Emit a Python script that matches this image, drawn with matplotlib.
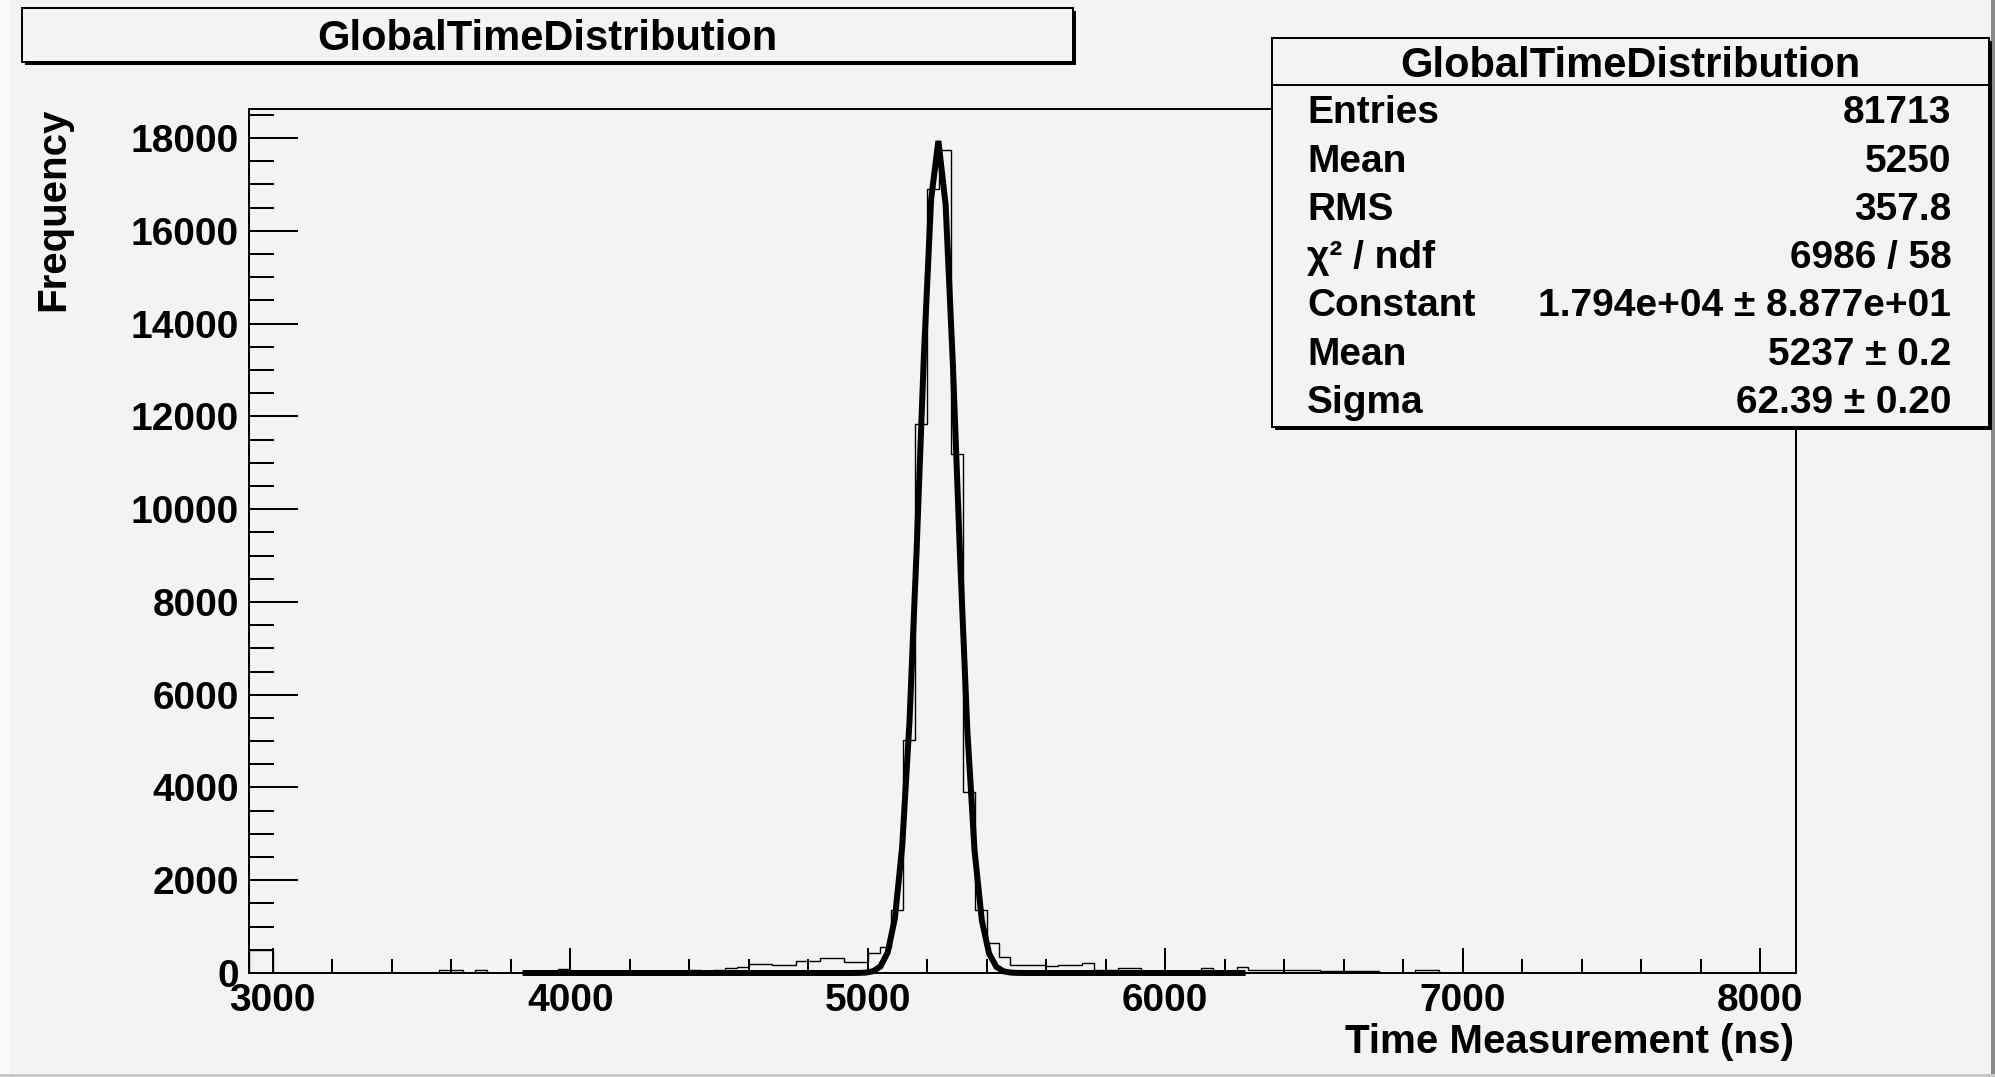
"""
GlobalTimeDistribution histogram with Gaussian fit, ROOT-style canvas.

Output:
    out.png
"""

import matplotlib
matplotlib.use("Agg")
import matplotlib.pyplot as plt
import numpy as np
from matplotlib.patches import Rectangle

W, H, DPI = 1995, 1077, 100
BG = "#f3f3f3"
PT = 72.0 / DPI  # points per pixel

plt.rcParams["font.family"] = ["Liberation Sans", "DejaVu Sans"]
plt.rcParams["font.weight"] = "bold"

# histogram: 130 bins of 40 ns starting at 2920 ns
bin_start = 2920
bin_width = 40
counts = [
    500, 500, 0, 0, 0, 0, 0, 0, 0, 0,
    0, 0, 0, 0, 0, 0, 70, 55, 10, 70,
    10, 0, 10, 20, 20, 30, 80, 40, 30, 40,
    40, 50, 40, 50, 50, 40, 50, 60, 50, 60,
    100, 137, 194, 194, 172, 172, 266, 266, 316, 316,
    244, 244, 424, 567, 1358, 5020, 11840, 16900, 17740, 11180,
    3910, 1358, 640, 350, 172, 172, 172, 160, 172, 172,
    210, 72, 72, 100, 100, 35, 35, 40, 35, 30,
    100, 35, 35, 130, 60, 55, 55, 55, 55, 55,
    50, 50, 50, 50, 50, 10, 10, 10, 60, 60,
    10, 0, 0, 0, 0, 0, 0, 0, 0, 0,
    0, 0, 0, 0, 0, 0, 0, 0, 0, 0,
    0, 0, 0, 0, 0, 0, 0, 0, 0, 0,
]

# gaussian fit as shown in the stats box
fit_constant = 1.794e4
fit_mean = 5237
fit_sigma = 62.39
fit_range = (3850, 6260)
fit_npx = 100

x_range = (2920, 8120)
y_max = 18627
x_ticks = [3000, 4000, 5000, 6000, 7000, 8000]
y_ticks = [0, 2000, 4000, 6000, 8000, 10000, 12000, 14000, 16000, 18000]

title = "GlobalTimeDistribution"
x_title = "Time Measurement (ns)"
y_title = "Frequency"

stats_labels = ["Entries", "Mean", "RMS", "\u03c7\u00b2 / ndf", "Constant", "Mean", "Sigma"]
stats_values = ["81713", "5250", "357.8", "6986 / 58",
                "1.794e+04 \u00b1 8.877e+01", "5237 \u00b1 0.2", "62.39 \u00b1 0.20"]


def pave(ax, x0, y0, x1, y1, shadow=3):
    ax.add_patch(Rectangle((x0 + shadow, y0 + shadow), x1 - x0, y1 - y0,
                           facecolor="black", edgecolor="none"))
    ax.add_patch(Rectangle((x0, y0), x1 - x0, y1 - y0,
                           facecolor=BG, edgecolor="black", lw=2 * PT))


def main():
    fig = plt.figure(figsize=(W / DPI, H / DPI), dpi=DPI, facecolor=BG)

    left, right, top, bottom = 248.9, 1795.9, 109, 973
    ax = fig.add_axes([left / W, 1 - bottom / H, (right - left) / W, (bottom - top) / H])
    ax.set_facecolor(BG)

    edges = bin_start + bin_width * np.arange(len(counts) + 1)
    ax.stairs(counts, edges, color="black", lw=1.4 * PT)

    xf = np.linspace(fit_range[0], fit_range[1], fit_npx)
    yf = fit_constant * np.exp(-0.5 * ((xf - fit_mean) / fit_sigma) ** 2)
    ax.plot(xf, yf, color="black", lw=6 * PT, solid_joinstyle="miter", clip_on=False)

    ax.set_xlim(*x_range)
    ax.set_ylim(0, y_max)
    ax.set_xticks(x_ticks)
    ax.set_xticks(np.arange(3000, 8001, 200), minor=True)
    ax.set_yticks(y_ticks)
    ax.set_yticks(np.arange(0, y_max, 500), minor=True)
    ax.set_xticklabels([str(v) for v in x_ticks])
    ax.set_yticklabels([str(v) for v in y_ticks])

    for s in ax.spines.values():
        s.set_linewidth(2 * PT)
    ax.tick_params(axis="both", which="both", direction="in", width=2 * PT,
                   top=False, right=False, labelsize=28, colors="black")
    ax.tick_params(axis="x", which="major", length=25 * PT, pad=10 * PT)
    ax.tick_params(axis="x", which="minor", length=14 * PT)
    ax.tick_params(axis="y", which="major", length=49 * PT, pad=10 * PT)
    ax.tick_params(axis="y", which="minor", length=25 * PT)

    # overlay in pixel coordinates for title, stats box and axis titles
    ov = fig.add_axes([0, 0, 1, 1], zorder=5)
    ov.set_xlim(0, W)
    ov.set_ylim(H, 0)
    ov.axis("off")
    ov.patch.set_alpha(0)

    # canvas bevel
    ov.add_patch(Rectangle((0, 0), 9, H, facecolor="#fbfbfb", edgecolor="none"))
    ov.add_patch(Rectangle((W - 4, 0), 4, H, facecolor="#8a8a8a", edgecolor="none"))
    ov.add_patch(Rectangle((0, H - 3), W, 3, facecolor="#c8c8c8", edgecolor="none"))

    ov.text(53, top - 1, y_title, rotation=90, ha="center", va="top", fontsize=29)
    ov.text(right - 2, 1053, x_title, ha="right", va="baseline", fontsize=29)

    # title pave
    pave(ov, 22.4, 8.3, 1073, 61.7)
    ov.text(547.7, 50, title, ha="center", va="baseline", fontsize=30)

    # stats pave
    sx0, sy0, sx1, sy1 = 1271.7, 38.3, 1989, 426.7
    pave(ov, sx0, sy0, sx1, sy1)
    ov.plot([sx0, sx1], [85, 85], color="black", lw=2 * PT)
    ov.text((sx0 + sx1) / 2, 76.7, title, ha="center", va="baseline", fontsize=30)
    for k, (lab, val) in enumerate(zip(stats_labels, stats_values)):
        yb = 123.3 + 48.3 * k
        ov.text(1307, yb, lab, ha="left", va="baseline", fontsize=28)
        ov.text(1951.5, yb, val, ha="right", va="baseline", fontsize=28)

    fig.savefig("out.png", dpi=DPI, facecolor=BG)
    plt.close(fig)


if __name__ == "__main__":
    main()
